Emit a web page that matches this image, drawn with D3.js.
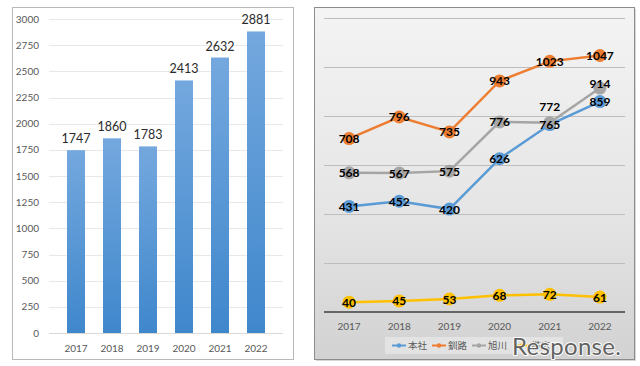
<!DOCTYPE html>
<html>
<head>
<meta charset="utf-8">
<script src="https://cdn.jsdelivr.net/npm/d3@7"></script>
<style>
  body { margin: 0; background: #fff; }
  svg { display: block; }
  text { font-family: Lato, "Noto Sans CJK JP", sans-serif; }
</style>
</head>
<body>
<svg id="chart" width="640" height="366"></svg>
<script>
// Data
const years = ["2017", "2018", "2019", "2020", "2021", "2022"];
const totals = [1747, 1860, 1783, 2413, 2632, 2881];
const barTicks = d3.range(0, 3001, 250);

const seriesNames = ["本社", "釧路", "旭川", "帯広"];
const honsha = [431, 452, 420, 626, 765, 859];
const kushiro = [708, 796, 735, 943, 1023, 1047];
const asahikawa = [568, 567, 575, 776, 772, 914];
const obihiro = [40, 45, 53, 68, 72, 61];
const seriesColors = ["#5b9bd5", "#ed7d31", "#a5a5a5", "#ffc000"];
const lineTicks = d3.range(200, 1201, 200);

const svg = d3.select("#chart");
const defs = svg.append("defs");

// bar gradient
const bg = defs.append("linearGradient").attr("id", "barGrad")
    .attr("x1", 0).attr("y1", 0).attr("x2", 0).attr("y2", 1);
bg.append("stop").attr("offset", "0%").attr("stop-color", "#74a8de");
bg.append("stop").attr("offset", "100%").attr("stop-color", "#3f87cc");

// panel gradient
const pg = defs.append("linearGradient").attr("id", "panelGrad")
    .attr("x1", 0).attr("y1", 0).attr("x2", 0).attr("y2", 1);
pg.append("stop").attr("offset", "0%").attr("stop-color", "#f4f4f4");
pg.append("stop").attr("offset", "55%").attr("stop-color", "#e6e6e6");
pg.append("stop").attr("offset", "100%").attr("stop-color", "#d2d2d2");

// ---------- Left: bar chart ----------
const left = svg.append("g");
left.append("rect")
    .attr("x", 12.5).attr("y", 7.5).attr("width", 281).attr("height", 352)
    .attr("fill", "#fff").attr("stroke", "#b8b8b8");

const yBar = d3.scaleLinear().domain([0, 3000]).range([333, 19]);
const xBar = d3.scaleBand().domain(years).range([49, 283]).padding(0.5);

left.selectAll("line.grid")
    .data(barTicks)
    .join("line")
    .attr("class", "grid")
    .attr("x1", 49).attr("x2", 283)
    .attr("y1", d => Math.round(yBar(d)) + 0.5)
    .attr("y2", d => Math.round(yBar(d)) + 0.5)
    .attr("stroke", d => d === 0 ? "#d9d9d9" : "#e8e8e8");

left.selectAll("text.ytick")
    .data(barTicks)
    .join("text")
    .attr("class", "ytick")
    .attr("x", 39)
    .attr("y", d => yBar(d) + 3.5)
    .attr("text-anchor", "end")
    .attr("font-size", 10)
    .attr("fill", "#595959")
    .text(d => d);

left.selectAll("rect.bar")
    .data(totals)
    .join("rect")
    .attr("class", "bar")
    .attr("x", (d, i) => xBar(years[i]))
    .attr("width", xBar.bandwidth())
    .attr("y", d => yBar(d))
    .attr("height", d => yBar(0) - yBar(d))
    .attr("fill", "url(#barGrad)");

left.selectAll("text.val")
    .data(totals)
    .join("text")
    .attr("class", "val")
    .attr("x", (d, i) => xBar(years[i]) + xBar.bandwidth() / 2)
    .attr("y", d => yBar(d) - 7)
    .attr("text-anchor", "middle")
    .attr("font-size", 12.5)
    .attr("fill", "#2b2b2b")
    .text(d => d);

left.selectAll("text.xtick")
    .data(years)
    .join("text")
    .attr("class", "xtick")
    .attr("x", d => xBar(d) + xBar.bandwidth() / 2)
    .attr("y", 352)
    .attr("text-anchor", "middle")
    .attr("font-size", 10)
    .attr("fill", "#595959")
    .text(d => d);

// ---------- Right: line chart ----------
const right = svg.append("g");
right.append("rect")
    .attr("x", 316).attr("y", 9).attr("width", 320).attr("height", 352)
    .attr("fill", "#d8d8d8");
right.append("rect")
    .attr("x", 314.5).attr("y", 7.5).attr("width", 320).attr("height", 352)
    .attr("fill", "url(#panelGrad)").attr("stroke", "#8c8c8c");

const yLine = d3.scaleLinear().domain([0, 1200]).range([312, 18]);
const xLine = d3.scaleBand().domain(years).range([324, 625]);
const cx = y => xLine(y) + xLine.bandwidth() / 2;

right.selectAll("line.grid")
    .data(lineTicks)
    .join("line")
    .attr("class", "grid")
    .attr("x1", 324).attr("x2", 625)
    .attr("y1", d => Math.round(yLine(d)) + 0.5)
    .attr("y2", d => Math.round(yLine(d)) + 0.5)
    .attr("stroke", "#bdbdbd");

right.append("line")
    .attr("x1", 324).attr("x2", 625)
    .attr("y1", yLine(0)).attr("y2", yLine(0))
    .attr("stroke", "#404040").attr("stroke-width", 1.5);

right.selectAll("text.xtick")
    .data(years)
    .join("text")
    .attr("class", "xtick")
    .attr("x", d => cx(d))
    .attr("y", 330)
    .attr("text-anchor", "middle")
    .attr("font-size", 10)
    .attr("fill", "#595959")
    .text(d => d);

const allSeries = [honsha, kushiro, asahikawa, obihiro];
const line = d3.line().x((d, i) => cx(years[i])).y(d => yLine(d));

allSeries.forEach((vals, s) => {
    const g = right.append("g");
    g.append("path")
        .datum(vals)
        .attr("d", line)
        .attr("fill", "none")
        .attr("stroke", seriesColors[s])
        .attr("stroke-width", 2.5);
    g.selectAll("circle")
        .data(vals)
        .join("circle")
        .attr("cx", (d, i) => cx(years[i]))
        .attr("cy", d => yLine(d))
        .attr("r", 6.5)
        .attr("fill", seriesColors[s]);
});

// labels: gray label moves above the blue one when they crowd
allSeries.forEach((vals, s) => {
    right.selectAll(null)
        .data(vals)
        .join("text")
        .attr("x", (d, i) => cx(years[i]))
        .attr("y", (d, i) => {
            let y = yLine(d);
            if (s === 2) y = Math.min(y, yLine(honsha[i]) - 18);
            return y + 4.5;
        })
        .attr("text-anchor", "middle")
        .attr("font-size", 12)
        .attr("font-weight", "bold")
        .attr("fill", "#000")
        .text(d => d);
});

// legend
const legend = right.append("g");
legend.append("rect")
    .attr("x", 385).attr("y", 337).attr("width", 178).attr("height", 17)
    .attr("fill", "#fff").attr("opacity", 0.35);
const legendX = [392, 432, 472, 515];
seriesNames.forEach((name, s) => {
    const x0 = legendX[s];
    legend.append("line")
        .attr("x1", x0).attr("x2", x0 + 14)
        .attr("y1", 345.5).attr("y2", 345.5)
        .attr("stroke", seriesColors[s]).attr("stroke-width", 2);
    legend.append("circle")
        .attr("cx", x0 + 7).attr("cy", 345.5).attr("r", 2.2)
        .attr("fill", seriesColors[s]);
    legend.append("text")
        .attr("x", x0 + 16).attr("y", 349)
        .attr("font-size", 9.5)
        .attr("fill", "#595959")
        .text(name);
});

// watermark
svg.append("text")
    .attr("x", 512).attr("y", 355)
    .attr("font-family", "DejaVu Sans")
    .attr("font-size", 24)
    .attr("letter-spacing", 0.3)
    .attr("fill", "#555")
    .attr("stroke", "#fff").attr("stroke-width", 2)
    .attr("paint-order", "stroke")
    .attr("opacity", 0.9)
    .text("Response.");
</script>
</body>
</html>
